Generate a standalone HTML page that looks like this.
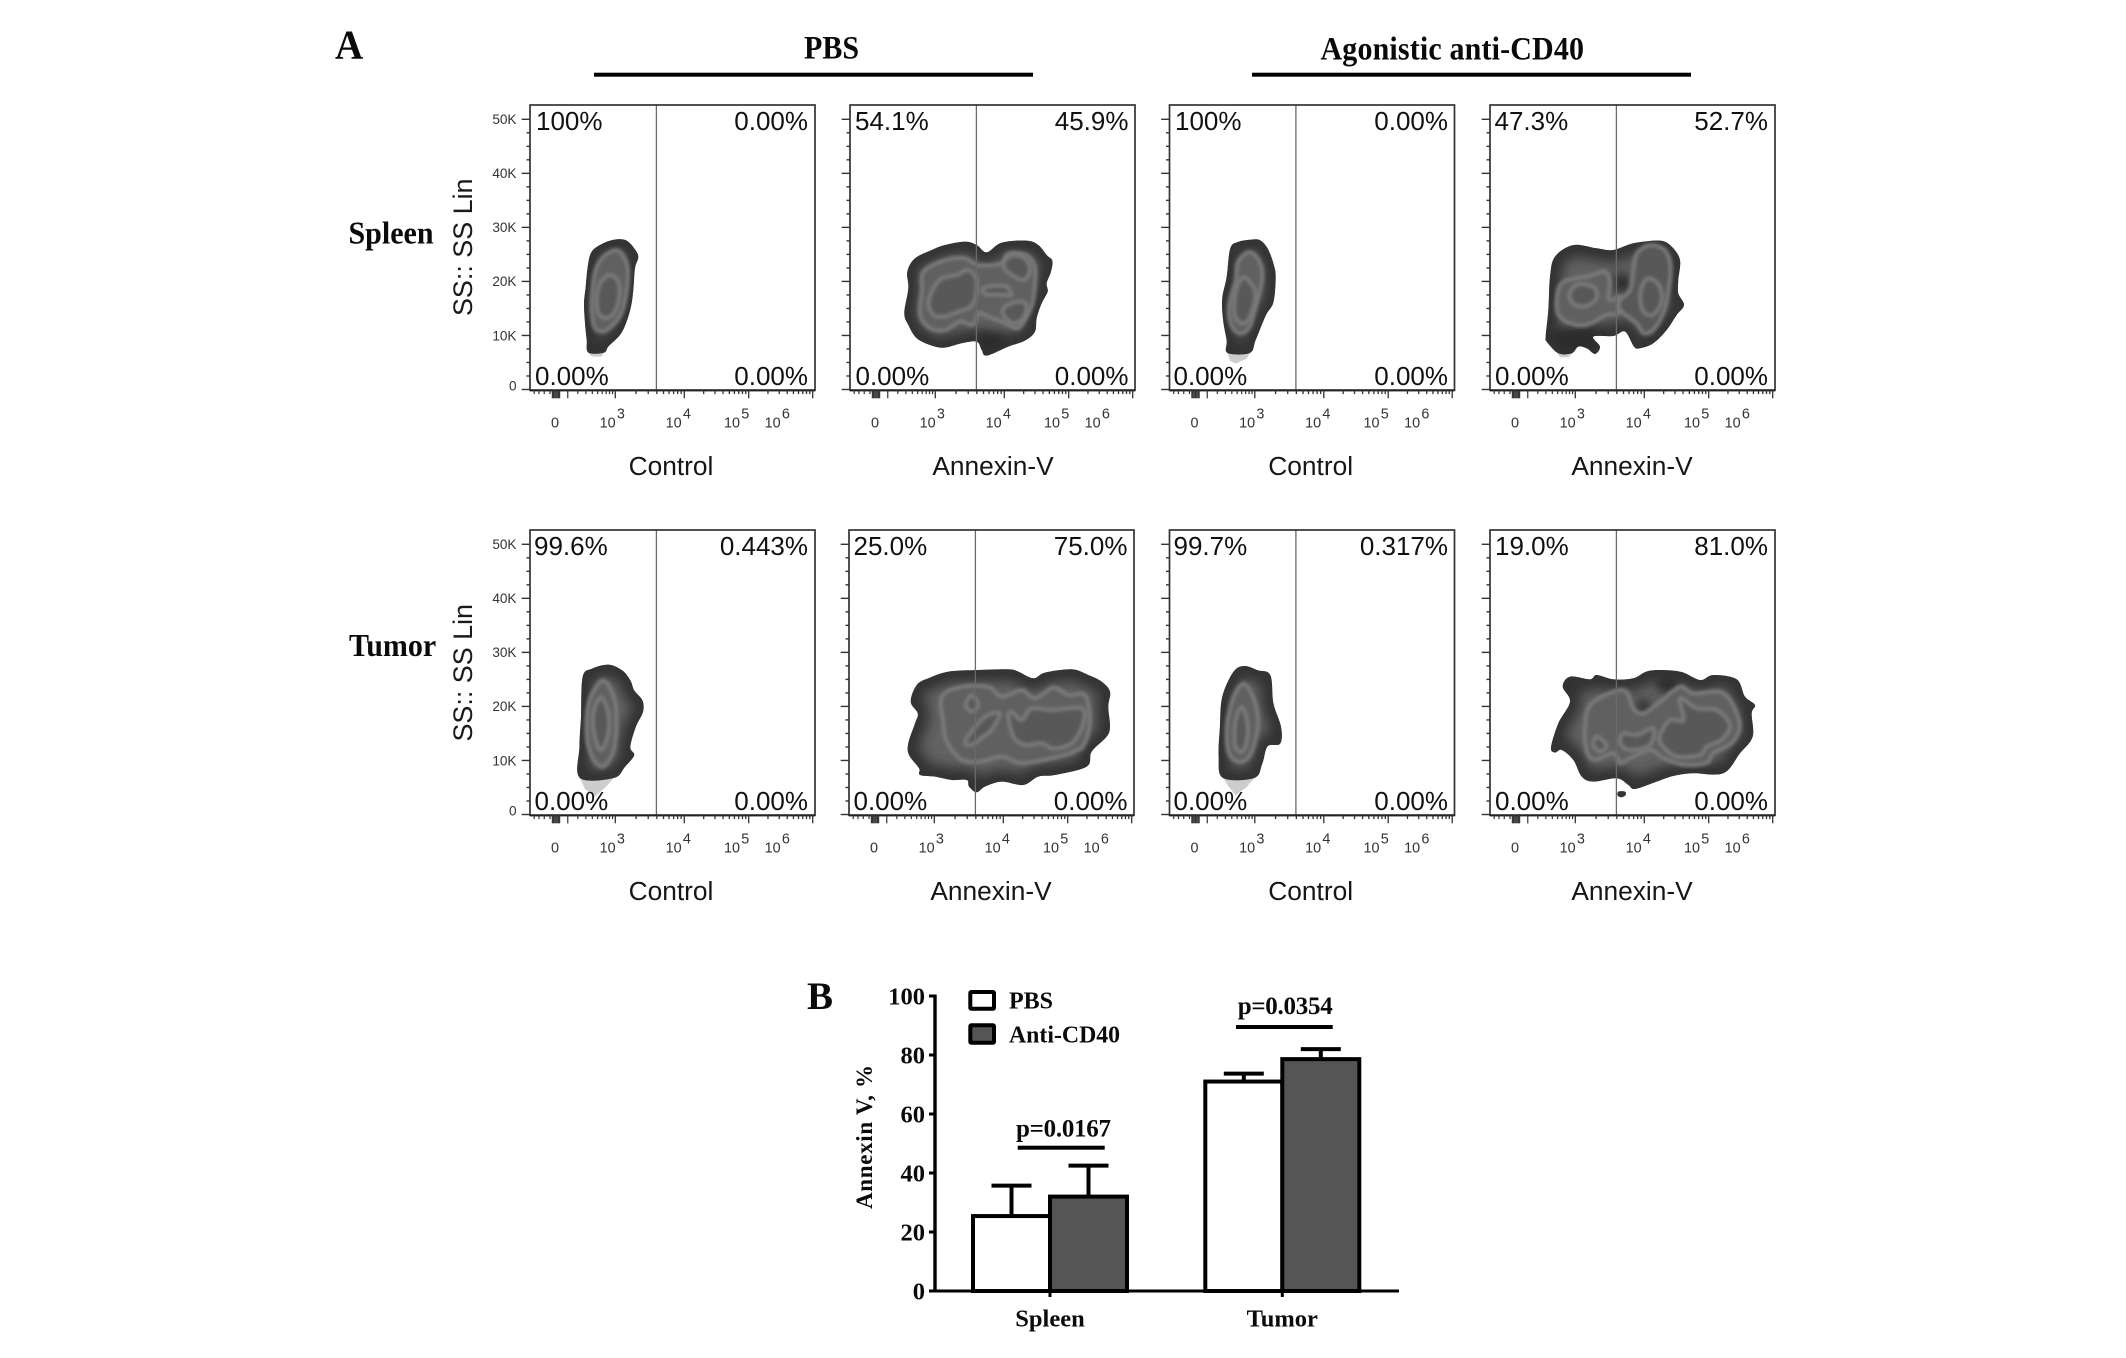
<!DOCTYPE html>
<html lang="en">
<head>
<meta charset="utf-8">
<title>Annexin-V flow cytometry and bar chart</title>
<style>
html,body{margin:0;padding:0;background:#fff;}
body{width:2126px;height:1358px;overflow:hidden;}
svg{display:block;}
.sans{font-family:"Liberation Sans",sans-serif;}
.serif{font-family:"Liberation Serif",serif;font-weight:bold;fill:#0a0a0a;}
.pct{font-family:"Liberation Sans",sans-serif;font-size:26px;fill:#111;}
.pe{text-anchor:end;}
.axl{font-family:"Liberation Sans",sans-serif;font-size:26.3px;fill:#161616;text-anchor:middle;}
.yt{font-family:"Liberation Sans",sans-serif;font-size:26.9px;fill:#1a1a1a;}
</style>
</head>
<body>
<svg id="fig" xmlns="http://www.w3.org/2000/svg" width="2126" height="1358" viewBox="0 0 2126 1358">
  <defs>
    <filter id="blurEdge" x="-30%" y="-30%" width="160%" height="160%"><feGaussianBlur stdDeviation="6"/></filter>
    <filter id="blurRing" x="-30%" y="-30%" width="160%" height="160%"><feGaussianBlur stdDeviation="1.6"/></filter>
    <filter id="blurSpot" x="-60%" y="-60%" width="220%" height="220%"><feGaussianBlur stdDeviation="5"/></filter>
  </defs>
  <rect x="0" y="0" width="2126" height="1358" fill="#fff"/>
  <g id="plots"></g>
  <g id="bars"></g>

  <text class="serif" transform="translate(335,58.5) scale(1,1.06)" font-size="39">A</text>
  <text class="serif" x="807" y="1009" font-size="39">B</text>
  <text class="serif" transform="translate(804,58.5) scale(1,1.08)" font-size="30">PBS</text>
  <rect x="594" y="72.7" width="439" height="4" fill="#000"/>
  <text class="serif" transform="translate(1320.5,59.5) scale(1,1.08)" font-size="30" textLength="263.5" lengthAdjust="spacing">Agonistic anti-CD40</text>
  <rect x="1252" y="72.7" width="439" height="4" fill="#000"/>
  <text class="serif" transform="translate(348.5,243.5) scale(1,1.06)" font-size="30">Spleen</text>
  <text class="serif" transform="translate(349,656) scale(1,1.06)" font-size="30">Tumor</text>

  <text class="yt" transform="translate(472,316) rotate(-90)">SS:: SS Lin</text>
  <text class="yt" transform="translate(472,741.5) rotate(-90)">SS:: SS Lin</text>

  <text class="axl" x="671" y="475">Control</text>
  <text class="axl" x="993" y="475">Annexin-V</text>
  <text class="axl" x="1310.7" y="475">Control</text>
  <text class="axl" x="1632" y="475">Annexin-V</text>
  <text class="axl" x="671" y="900">Control</text>
  <text class="axl" x="991" y="900">Annexin-V</text>
  <text class="axl" x="1310.7" y="900">Control</text>
  <text class="axl" x="1632" y="900">Annexin-V</text>

  <g>
    <text class="pct" x="536" y="130">100%</text>
    <text class="pct pe" x="808" y="130">0.00%</text>
    <text class="pct" x="535" y="385">0.00%</text>
    <text class="pct pe" x="808" y="385">0.00%</text>

    <text class="pct" x="855" y="130">54.1%</text>
    <text class="pct pe" x="1128.5" y="130">45.9%</text>
    <text class="pct" x="855.5" y="385">0.00%</text>
    <text class="pct pe" x="1128.5" y="385">0.00%</text>

    <text class="pct" x="1175" y="130">100%</text>
    <text class="pct pe" x="1448" y="130">0.00%</text>
    <text class="pct" x="1173.5" y="385">0.00%</text>
    <text class="pct pe" x="1448" y="385">0.00%</text>

    <text class="pct" x="1494.5" y="130">47.3%</text>
    <text class="pct pe" x="1768" y="130">52.7%</text>
    <text class="pct" x="1495" y="385">0.00%</text>
    <text class="pct pe" x="1768" y="385">0.00%</text>

    <text class="pct" x="534" y="555">99.6%</text>
    <text class="pct pe" x="808" y="555">0.443%</text>
    <text class="pct" x="534.5" y="810">0.00%</text>
    <text class="pct pe" x="808" y="810">0.00%</text>

    <text class="pct" x="853.5" y="555">25.0%</text>
    <text class="pct pe" x="1127.5" y="555">75.0%</text>
    <text class="pct" x="853.5" y="810">0.00%</text>
    <text class="pct pe" x="1127.5" y="810">0.00%</text>

    <text class="pct" x="1173.5" y="555">99.7%</text>
    <text class="pct pe" x="1448" y="555">0.317%</text>
    <text class="pct" x="1173.5" y="810">0.00%</text>
    <text class="pct pe" x="1448" y="810">0.00%</text>

    <text class="pct" x="1495" y="555">19.0%</text>
    <text class="pct pe" x="1768" y="555">81.0%</text>
    <text class="pct" x="1495" y="810">0.00%</text>
    <text class="pct pe" x="1768" y="810">0.00%</text>
  </g>

  <text class="serif" font-size="23" text-anchor="middle" transform="translate(872,1137) rotate(-90)" textLength="144" lengthAdjust="spacing">Annexin V, %</text>
  <rect x="970.3" y="992" width="23.7" height="16.7" rx="1" fill="#fff" stroke="#000" stroke-width="4"/>
  <rect x="970.3" y="1025.3" width="23.7" height="17.4" rx="1" fill="#555" stroke="#000" stroke-width="4"/>
  <text class="serif" x="1009" y="1008.3" font-size="24">PBS</text>
  <text class="serif" x="1009" y="1042.3" font-size="23.8">Anti-CD40</text>
  <text class="serif" x="1016" y="1136.7" font-size="25" textLength="95" lengthAdjust="spacing">p=0.0167</text>
  <rect x="1017.7" y="1145.7" width="87" height="4" fill="#000"/>
  <text class="serif" x="1237.7" y="1014" font-size="25" textLength="95" lengthAdjust="spacing">p=0.0354</text>
  <rect x="1236" y="1025" width="96.7" height="4" fill="#000"/>
</svg>

<script>
/* ---------- Bar chart data (Annexin V, %) ---------- */
const barCategories = ['Spleen', 'Tumor'];
const seriesPBS = [25.4, 71];
const seriesAntiCD40 = [32, 78.6];
const errorPBS = [10.3, 2.7];
const errorAntiCD40 = [10.5, 3.4];
const barYTicks = [0, 20, 40, 60, 80, 100];

/* ---------- Flow plot axis data ---------- */
const ssTickValuesK = [0, 2.5, 5, 7.5, 10, 12.5, 15, 17.5, 20, 22.5, 25, 27.5, 30, 32.5, 35, 37.5, 40, 42.5, 45, 47.5, 50];
const ssTickLabels = ['0', '10K', '20K', '30K', '40K', '50K'];
const ssLabelValuesK = [0, 10, 20, 30, 40, 50];
const biexLowTicks = [-200, -150, -100, -50, -30, -20, -10, 0, 10, 20, 30, 100, 200, 300, 400, 500, 600, 700, 800, 900];
const logMultipliers = [1, 2, 3, 4, 5, 6, 7, 8, 9];
const logDecades = [3, 4, 5];
const xTickExponents = ['3', '4', '5', '6'];

/* ---------- Density contours, in scan channels (x, y pairs) ---------- */
const a1Outer = [290,118,320,122,345,148,355,172,345,205,340,270,333,320,318,370,300,405,265,440,252,458,205,458,200,420,195,370,192,310,197,260,203,200,215,155,250,130];
const a1Tip = [205,458,252,458,245,470,215,470];
const a1Ring1 = [290,150,315,175,325,215,320,280,305,340,280,375,250,395,225,385,215,345,215,290,225,215,250,170];
const a1Ring2 = [270,225,295,245,298,290,285,335,260,355,235,340,230,300,240,250];

const a2Outer = [360,125,395,135,425,157,470,128,545,122,580,135,605,165,622,182,618,215,605,250,608,275,590,310,575,355,570,395,540,422,490,440,425,467,410,450,395,425,350,430,300,443,260,437,215,415,190,375,178,340,190,265,187,215,210,175,260,150,300,135];
const a2Ring1 = [300,180,360,175,400,195,470,190,490,160,545,165,570,200,570,260,560,320,530,375,510,385,470,365,430,350,400,340,385,375,345,365,300,390,255,385,225,345,230,270,235,215];
const a2Ring2 = [370,210,395,240,390,300,370,325,340,335,300,350,265,345,250,310,265,265,290,235,335,225];
const a2Ring3 = [480,180,510,165,545,180,555,215,535,240,500,225,478,205];
const a2Ring4 = [480,320,520,305,545,315,535,355,505,370,475,345];
const a2Ring5 = [420,262,480,258,500,285,480,285,420,282];
const a2Spot1 = [405,395,470,400,490,425,430,450,405,435];

const a3Outer = [225,718,245,720,262,745,275,790,280,830,275,905,258,945,235,1020,222,1058,172,1058,170,1020,162,960,160,895,170,830,178,745,195,725];
const a3Tip = [172,1058,222,1058,215,1075,190,1090,178,1082];
const a3Ring1 = [222,755,245,785,250,840,235,920,222,980,200,1000,180,975,175,915,190,840,195,785];
const a3Ring2 = [215,835,235,880,222,950,205,970,188,945,188,890,200,840];

const a4Outer = [280,135,350,145,400,150,460,130,540,122,575,140,600,180,595,240,595,280,612,315,590,345,560,390,520,430,480,445,462,440,435,395,400,408,340,410,360,440,345,462,320,445,295,440,275,460,235,460,200,425,197,410,205,330,210,230,225,170];
const a4Tip = [232,460,278,460,265,472,240,472];
const a4Ring1 = [320,230,375,215,390,250,385,295,400,300,420,290,415,340,380,345,320,375,270,370,235,345,230,290,250,245];
const a4Ring2 = [310,252,345,265,350,295,320,318,285,315,268,290,280,262];
const a4Ring3 = [510,135,555,150,572,200,565,280,550,340,520,390,490,400,470,370,430,340,415,320,420,300,450,270,460,210,470,160];
const a4Ring4 = [510,235,540,260,545,305,520,345,490,335,480,290,490,250];
const a4Spot1 = [405,225,445,225,450,265,415,280,400,260];
const a4Spot2 = [215,390,330,385,340,440,240,450];

const b1Outer = [525,493,550,510,565,540,572,570,587,600,588,635,575,680,565,740,572,765,555,800,535,833,473,833,472,740,475,650,478,530,495,505];
const b1Tip = [473,833,535,833,520,860,500,890,482,865];
const b1Ring1 = [515,540,535,590,540,660,535,750,515,800,495,770,485,700,490,600];
const b1Ring2 = [512,590,525,640,525,700,512,750,500,710,497,640];

const b2Outer = [310,125,400,120,490,118,520,125,565,145,600,128,680,118,730,135,770,155,795,185,790,230,795,290,785,320,740,365,725,410,630,435,580,440,535,465,470,455,420,470,395,487,372,470,365,450,320,450,270,440,225,435,222,415,192,375,190,340,210,280,218,250,197,215,215,165,250,145];
const b2Ring1 = [290,200,350,170,430,170,470,200,530,180,570,205,625,172,670,195,720,195,735,270,720,340,690,365,620,385,530,400,470,380,410,395,350,390,305,335,295,280];
const b2Ring2 = [560,235,620,240,710,235,715,280,690,330,660,350,620,355,590,340,540,345,505,320,490,260,500,245,530,270];
const b2Ring3 = [380,195,400,225,380,245,362,225];
const b2Ring4 = [430,255,465,250,440,300,415,320,380,345,360,335,400,280];

const b3Outer = [210,497,240,510,268,525,275,610,292,680,290,730,262,738,250,790,232,833,162,833,152,770,155,680,160,590,185,515];
const b3Tip = [162,833,232,833,215,860,190,885,175,860];
const b3Ring1 = [210,550,235,610,240,680,225,760,200,785,175,760,170,680,185,590];
const b3Ring2 = [205,620,218,680,212,740,200,755,188,730,190,660];

const b4Outer = [270,140,330,148,350,135,400,148,460,145,510,122,600,125,660,150,700,135,770,148,795,200,825,225,815,250,818,320,780,370,730,430,640,430,580,438,530,455,465,477,445,465,410,445,340,455,305,440,280,390,245,360,225,368,213,352,235,280,270,215,248,170];
const b4Island = [415,485,435,485,437,495,425,502,413,497];
const b4Ring1 = [330,225,400,185,440,185,460,235,490,250,540,215,600,170,640,190,720,185,760,225,780,290,755,340,700,370,680,400,610,405,550,385,510,360,450,385,420,400,400,370,345,390,320,365,315,290];
const b4Ring2 = [600,205,650,235,710,240,750,285,725,330,680,350,660,375,590,380,545,345,540,315,570,270,610,270];
const b4Ring3 = [350,320,380,345,360,365,340,345];
const b4Ring4 = [430,310,470,315,520,295,510,345,450,360,420,340];
const b4Spot1 = [535,145,590,145,590,185,540,185];
const b4Spot2 = [470,215,510,215,510,245,475,245];

/* ---------- Plot definitions ---------- */
const flowPlots = [
  {id:'spleen-pbs-control',  col:0,row:0,outer:a1Outer,tip:a1Tip,rings:[a1Ring1,a1Ring2],spots:[],cal:0,yLabels:true},
  {id:'spleen-pbs-annexin',  col:1,row:0,outer:a2Outer,rings:[a2Ring1,a2Ring2,a2Ring3,a2Ring4,a2Ring5],spots:[a2Spot1],cal:1},
  {id:'spleen-cd40-control', col:2,row:0,outer:a3Outer,tip:a3Tip,rings:[a3Ring1,a3Ring2],spots:[],cal:2},
  {id:'spleen-cd40-annexin', col:3,row:0,outer:a4Outer,tip:a4Tip,rings:[a4Ring1,a4Ring2,a4Ring3,a4Ring4],spots:[a4Spot1,a4Spot2],cal:0},
  {id:'tumor-pbs-control',   col:0,row:1,outer:b1Outer,tip:b1Tip,rings:[b1Ring1,b1Ring2],spots:[],cal:3,yLabels:true},
  {id:'tumor-pbs-annexin',   col:1,row:1,outer:b2Outer,rings:[b2Ring1,b2Ring2,b2Ring3,b2Ring4],spots:[],cal:4},
  {id:'tumor-cd40-control',  col:2,row:1,outer:b3Outer,tip:b3Tip,rings:[b3Ring1,b3Ring2],spots:[],cal:5},
  {id:'tumor-cd40-annexin',  col:3,row:1,outer:b4Outer,island:b4Island,rings:[b4Ring1,b4Ring2,b4Ring3,b4Ring4],spots:[b4Spot1,b4Spot2],cal:6}
];

/* channel calibration: channel offset / gain / baseline of each acquisition */
function calibration(i){
  if(i===0) return {x0:30,g:1,y0:571};
  if(i===1) return {x0:15,g:1,y0:571};
  if(i===2) return {x0:42,g:1.339,y0:1170};
  if(i===3) return {x0:382,g:1.645,y0:945};
  if(i===4) return {x0:12,g:1,y0:556};
  if(i===5) return {x0:42,g:1.339,y0:945};
  return {x0:30,g:1,y0:556};
}

const NS = 'http://www.w3.org/2000/svg';
function mk(parent, tag, attrs, text){
  const e = document.createElementNS(NS, tag);
  for(const k in attrs) e.setAttribute(k, attrs[k]);
  if(text !== undefined) e.textContent = text;
  parent.appendChild(e);
  return e;
}

/* ---------- Geometry helpers ---------- */
function panelLeft(col,row){
  if(col===0) return 530;
  if(col===1) return row===0 ? 850 : 849;
  if(col===2) return 1169.5;
  return 1490;
}
const panelW = 285, panelH = 285.3;
function panelTop(row){ return row===0 ? 105 : 530; }
function panelBottom(row){ return panelTop(row)+panelH; }
function ssY(row, k){ return panelBottom(row) - 0.8 - k*5.404; }

/* x axis: biexponential below 10^3, log above */
function xAxis(v){
  if(v < 1000){
    return 26 + 59.3*Math.asinh(v/220)/Math.asinh(1000/220);
  }
  const d = Math.log10(v);
  if(d < 4) return 85.3 + (d-3)*69;
  if(d < 5) return 154.3 + (d-4)*64.4;
  return 218.7 + (d-5)*64;
}

function smoothPath(pts){
  const n = pts.length;
  let d = 'M'+pts[0][0].toFixed(1)+' '+pts[0][1].toFixed(1);
  for(let i=0;i<n;i++){
    const p0=pts[(i-1+n)%n],p1=pts[i],p2=pts[(i+1)%n],p3=pts[(i+2)%n];
    const c1x=p1[0]+(p2[0]-p0[0])/6,c1y=p1[1]+(p2[1]-p0[1])/6;
    const c2x=p2[0]-(p3[0]-p1[0])/6,c2y=p2[1]-(p3[1]-p1[1])/6;
    d+='C'+c1x.toFixed(1)+' '+c1y.toFixed(1)+' '+c2x.toFixed(1)+' '+c2y.toFixed(1)+' '+p2[0].toFixed(1)+' '+p2[1].toFixed(1);
  }
  return d+'Z';
}
function straightPath(pts){
  return 'M'+pts.map(function(p){return p[0].toFixed(1)+' '+p[1].toFixed(1);}).join('L')+'Z';
}
function toPoints(arr, plot){
  const c = calibration(plot.cal);
  const L = panelLeft(plot.col,plot.row), B = panelBottom(plot.row);
  const out = [];
  for(let i=0;i<arr.length;i+=2){
    out.push([L+(arr[i]-c.x0)*c.g/3, B-(c.y0-arr[i+1])/3]);
  }
  return out;
}

/* ---------- Draw flow plots ---------- */
const plotsRoot = document.getElementById('plots');
const defs = document.querySelector('#fig defs');

flowPlots.forEach(function(plot, idx){
  const L = panelLeft(plot.col,plot.row), T = panelTop(plot.row), B = panelBottom(plot.row);
  const g = mk(plotsRoot,'g',{});
  
  

  /* light under-threshold tip */
  if(plot.tip){
    const tip = mk(g,'path',{d:straightPath(toPoints(plot.tip,plot)),fill:'#cdcdcd'});
    
    
  }

  /* density blob */
  const outerD = smoothPath(toPoints(plot.outer,plot));
  const clip = mk(defs,'clipPath',{id:'clip'+idx});
  mk(clip,'path',{d:outerD});
  const blob = mk(g,'g',{'clip-path':'url(#clip'+idx+')'});
  
  
  mk(blob,'path',{d:outerD,fill:'#626262'});
  mk(blob,'path',{d:outerD,fill:'none',stroke:'#303030','stroke-width':24,filter:'url(#blurEdge)'});
  plot.spots.forEach(function(s){
    const sp = mk(blob,'path',{d:smoothPath(toPoints(s,plot)),fill:'#2c2c2c',filter:'url(#blurSpot)'});
    
    
  });
  plot.rings.forEach(function(r,i){
    const ring = mk(blob,'path',{d:smoothPath(toPoints(r,plot)),fill:i===0?'#606060':'#585858',stroke:'#7e7e7e','stroke-width':3.4,filter:'url(#blurRing)'});
    
    
  });
  if(plot.island){
    const isl = mk(g,'path',{d:smoothPath(toPoints(plot.island,plot)),fill:'#333'});
    
    
  }

  /* gate */
  const gate = mk(g,'line',{x1:L+126.4,x2:L+126.4,y1:T,y2:B,stroke:'#6a6a6a','stroke-width':1.3});
  
  

  /* frame */
  const frame = mk(g,'rect',{x:L,y:T,width:panelW,height:panelH,fill:'none',stroke:'#333','stroke-width':1.7});
  
  
  const base = mk(g,'line',{x1:L,x2:L+panelW,y1:B,y2:B,stroke:'#222','stroke-width':2.2});
  
  

  /* y ticks */
  ssTickValuesK.forEach(function(k){
    const major = k % 10 === 0;
    const t = mk(g,'line',{x1:L-(major?8.3:3.5),x2:L,y1:ssY(plot.row,k),y2:ssY(plot.row,k),stroke:'#333','stroke-width':1.4});
    
    
  });
  if(plot.yLabels){
    ssLabelValuesK.forEach(function(k,i){
      const lift = k === 0 ? -4 : 0;
      const t = mk(g,'text',{x:L-13.5,y:ssY(plot.row,k)+4.8+lift,'text-anchor':'end','font-family':'"Liberation Sans",sans-serif','font-size':13.6,fill:'#333'},ssTickLabels[i]);
      
      
    });
  }

  /* x ticks */
  biexLowTicks.forEach(function(v){
    const px = L + xAxis(v);
    const major = v === 100 || Math.abs(v) <= 30;
    const t = mk(g,'line',{x1:px,x2:px,y1:B,y2:B+(major?8:3.8),stroke:'#333','stroke-width':1.2});
    
    
  });
  logDecades.forEach(function(d){
    logMultipliers.forEach(function(m){
      const px = L + xAxis(m*Math.pow(10,d));
      const t = mk(g,'line',{x1:px,x2:px,y1:B,y2:B+(m===1?8:3.8),stroke:'#333','stroke-width':1.3});
      
      
    });
  });
  const tEnd = mk(g,'line',{x1:L+xAxis(1e6),x2:L+xAxis(1e6),y1:B,y2:B+8,stroke:'#333','stroke-width':1.3});
  
  

  /* x tick labels */
  const fontAttrs = {'font-family':'"Liberation Sans",sans-serif','font-size':14.4,fill:'#333'};
  const zero = mk(g,'text',Object.assign({x:L+25,y:B+37.4,'text-anchor':'middle'},fontAttrs),'0');
  
  
  const labelEnds = [xAxis(1000)+0.4, xAxis(1e4)-2.6, xAxis(1e5)-8.7, xAxis(1e6)-32];
  xTickExponents.forEach(function(e,i){
    const b = mk(g,'text',Object.assign({x:L+labelEnds[i],y:B+37.4,'text-anchor':'end'},fontAttrs),'10');
    
    
    const ex = mk(g,'text',Object.assign({x:L+labelEnds[i]+1.2,y:B+28},fontAttrs),e);
    
    
  });
});

/* ---------- Draw bar chart ---------- */
const barsRoot = document.getElementById('bars');
function yBar(v){ return 1291 - v*2.95; }
function catX(i){ return 1050 + i*232.3; }
const barW = 77;

function drawBar(i, side, value, err, fill, name){
  const x = side < 0 ? catX(i)-barW : catX(i);
  const cx = x + barW/2;
  const stem = mk(barsRoot,'line',{x1:cx,x2:cx,y1:yBar(value),y2:yBar(value+err),stroke:'#000','stroke-width':4});
  
  
  const cap = mk(barsRoot,'line',{x1:cx-20,x2:cx+20,y1:yBar(value+err),y2:yBar(value+err),stroke:'#000','stroke-width':4});
  
  
  const r = mk(barsRoot,'rect',{x:x,y:yBar(value),width:barW,height:yBar(0)-yBar(value),fill:fill,stroke:'#000','stroke-width':4});
  
  
}
barCategories.forEach(function(c,i){
  drawBar(i,-1,seriesPBS[i],errorPBS[i],'#fff','pbs-'+c.toLowerCase());
});
barCategories.forEach(function(c,i){
  drawBar(i,1,seriesAntiCD40[i],errorAntiCD40[i],'#555','anti-cd40-'+c.toLowerCase());
});

const yLine = mk(barsRoot,'line',{x1:935,x2:935,y1:yBar(100)-1.5,y2:yBar(0)+1.5,stroke:'#000','stroke-width':3.4});


const xLine = mk(barsRoot,'line',{x1:929,x2:1399,y1:yBar(0),y2:yBar(0),stroke:'#000','stroke-width':3});



barYTicks.forEach(function(v){
  const t = mk(barsRoot,'line',{x1:929,x2:935,y1:yBar(v),y2:yBar(v),stroke:'#000','stroke-width':3});
  
  
  const l = mk(barsRoot,'text',{x:925,y:yBar(v)+8.3,'text-anchor':'end','class':'serif','font-size':24.5},String(v));
  
  
});
barCategories.forEach(function(c,i){
  const t = mk(barsRoot,'line',{x1:catX(i),x2:catX(i),y1:yBar(0),y2:yBar(0)+6,stroke:'#000','stroke-width':3});
  
  
  const l = mk(barsRoot,'text',{x:catX(i),y:1326.7,'text-anchor':'middle','class':'serif','font-size':24.5},c);
  
  
});
</script>
</body>
</html>
